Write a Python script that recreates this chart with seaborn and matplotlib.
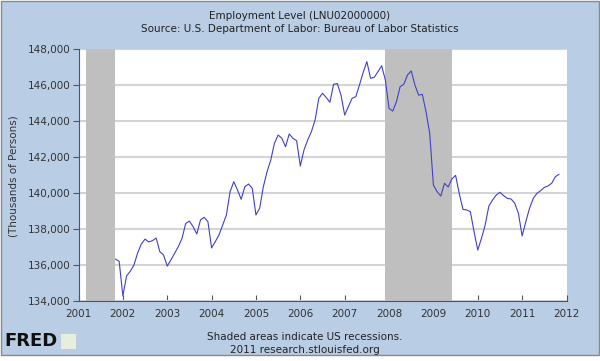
import matplotlib
matplotlib.use("Agg")
import matplotlib.pyplot as plt
from matplotlib.patches import Rectangle
from matplotlib.ticker import FuncFormatter
import seaborn as sns
import pandas as pd

# Employment level, monthly, thousands of persons (Nov 2001 - Nov 2011)
start_month = "2001-11-01"
employment = [
    136330, 136200,
    134280, 135390, 135650, 136000, 136670, 137170, 137440, 137280, 137350, 137500, 136740, 136560,
    135940, 136280, 136650, 137020, 137480, 138310, 138440, 138130, 137720, 138500, 138650, 138410,
    136950, 137300, 137670, 138220, 138780, 140070, 140630, 140170, 139650, 140350, 140500, 140260,
    138780, 139150, 140350, 141180, 141830, 142760, 143220, 143040, 142570, 143280, 143040, 142910,
    141500, 142390, 142950, 143410, 144060, 145260, 145540, 145310, 145040, 146040, 146080, 145440,
    144330, 144800, 145260, 145350, 146000, 146700, 147300, 146370, 146430, 146740, 147070, 146280,
    144700, 144550, 145070, 145910, 146040, 146560, 146780, 146000, 145440, 145480, 144520, 143310,
    140440, 140070, 139830, 140540, 140330, 140780, 140980, 139960, 139090, 139060, 138960, 137850,
    136830, 137480, 138220, 139280, 139610, 139890, 140040, 139850, 139700, 139670, 139430, 138870,
    137610, 138410, 139150, 139700, 139980, 140130, 140310, 140390, 140540, 140910, 141040,
]
# US recessions (start, end) as dates
recessions = [("2001-03-01", "2001-11-01"), ("2007-12-01", "2009-06-01")]
year_ticks = list(range(2001, 2013))
y_ticks = list(range(134000, 148001, 2000))


def dec_year(d):
    d = pd.Timestamp(d)
    return d.year + (d.month - 1) / 12


dates = pd.date_range(start_month, periods=len(employment), freq="MS")
df = pd.DataFrame({"year": [dec_year(d) for d in dates], "value": employment})

sns.set_style("white")
plt.rcParams['font.family'] = ['DejaVu Sans']

bg = "#b9cde5"
fig = plt.figure(figsize=(6, 3.61), dpi=100, facecolor="white")
fig.patches.append(Rectangle((0.002, 6 / 361), 0.996, 1 - 6 / 361 - 0.003,
                             transform=fig.transFigure, facecolor=bg,
                             edgecolor="#8a8a8a", linewidth=1.0, zorder=-10))

ax = fig.add_axes([78.5 / 600, 1 - 301 / 361, 488 / 600, 252 / 361])
ax.set_facecolor("white")

# recession shading
for s, e in recessions:
    ax.axvspan(dec_year(s), dec_year(e), color="#bfbfbf", lw=0, zorder=1)

sns.lineplot(data=df, x="year", y="value", ax=ax, color="#4040c8", linewidth=0.8, zorder=3)

ax.set_xlim(2001, 2012)
ax.set_ylim(134000, 148000)
ax.set_xticks(year_ticks)
ax.set_yticks(y_ticks)
ax.yaxis.set_major_formatter(FuncFormatter(lambda v, p: f"{int(v):,}"))
ax.set_xlabel("")
ax.set_ylabel("")

ax.set_axisbelow(True)
ax.grid(axis="y", color="#d4d4d4", linewidth=1.5)
ax.grid(axis="x", visible=False)

for side in ["top", "right"]:
    ax.spines[side].set_visible(False)
for side in ["left", "bottom"]:
    ax.spines[side].set_color("#555555")
    ax.spines[side].set_linewidth(0.8)

ax.tick_params(axis="x", direction="in", length=4, width=0.8, color="#555555",
               labelsize=7.5, labelcolor="#333333", pad=6, bottom=True)
ax.tick_params(axis="y", direction="out", length=4, width=0.8, color="#555555",
               labelsize=7.5, labelcolor="#333333", pad=2, left=True)

# titles and notes
fig.text(0.5, 1 - 16 / 361, "Employment Level (LNU02000000)", ha="center", va="center",
         fontsize=7.5, color="#222222")
fig.text(0.5, 1 - 29 / 361, "Source: U.S. Department of Labor: Bureau of Labor Statistics",
         ha="center", va="center", fontsize=7.5, color="#222222")
fig.text(14 / 600, 1 - 176 / 361, "(Thousands of Persons)", rotation=90, ha="center",
         va="center", fontsize=7.5, color="#333333")
fig.text(305 / 600, 1 - 337 / 361, "Shaded areas indicate US recessions.", ha="center",
         va="center", fontsize=7.5, color="#222222")
fig.text(305 / 600, 1 - 350 / 361, "2011 research.stlouisfed.org", ha="center",
         va="center", fontsize=7.5, color="#222222")

# FRED logo
fig.text(4 / 600, 1 - 341 / 361, "FRED", ha="left", va="center", fontsize=13,
         fontweight="bold", color="#111111")
fig.patches.append(Rectangle((61 / 600, 1 - 349 / 361), 15 / 600, 15 / 361,
                             transform=fig.transFigure, facecolor="#e8eedc",
                             edgecolor="none", zorder=1))

fig.savefig("out.png", dpi=100, facecolor=fig.get_facecolor())
